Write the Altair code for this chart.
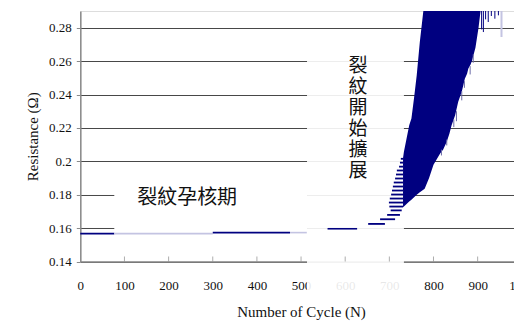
import altair as alt
import pandas as pd

# ---- axes ----
x_ticks = [0, 100, 200, 300, 400, 500, 600, 700, 800, 900, 1000]
y_ticks = [0.14, 0.16, 0.18, 0.20, 0.22, 0.24, 0.26, 0.28]
x_title = "Number of Cycle (N)"
y_title = "Resistance (Ω)"

# ---- flat (nucleation) trace, horizontal segments ----
seg_start = [0, 77, 300, 475, 560]
seg_end = [77, 300, 475, 513, 627]
seg_res = [0.1567, 0.1567, 0.1573, 0.1573, 0.1596]
seg_shade = ["dark", "faint", "dark", "faint", "dark"]

# ---- oscillation stripes just before crack growth ----
stripe_res = [0.2015, 0.1992, 0.1968, 0.1945, 0.1921, 0.1897, 0.1873, 0.1849,
              0.1825, 0.1801, 0.1777, 0.1753, 0.1729, 0.1706, 0.1679, 0.1653, 0.1625]
stripe_start = [726, 724, 722, 717, 715, 713, 710, 708, 706, 704, 701, 699, 700,
                703, 695, 679, 652]
stripe_end = [731, 731, 731, 731, 731, 731, 731, 731, 731, 731, 731, 731, 731,
              728, 724, 713, 690]

# ---- crack growth envelope ----
band_cycle = [731, 733, 739, 745, 750, 756, 762, 769, 777, 780, 790, 800, 815, 822,
              830, 836, 841, 849, 856, 864, 871, 876, 879, 884, 887, 895, 902, 908]
band_low = [0.1725, 0.1730, 0.1745, 0.1760, 0.1770, 0.1785, 0.1800, 0.1815, 0.1830,
            0.1835, 0.1900, 0.1980, 0.2047, 0.2070, 0.2117, 0.2165, 0.2216, 0.2276,
            0.2356, 0.2416, 0.2495, 0.2525, 0.2555, 0.2580, 0.2600, 0.2680, 0.2800, 0.2930]
band_high = [0.2020, 0.2057, 0.2137, 0.2216, 0.2257, 0.2380, 0.2515, 0.2715, 0.2900,
             0.3000, 0.3000, 0.3000, 0.3000, 0.3000, 0.3000, 0.3000, 0.3000, 0.3000,
             0.3000, 0.3000, 0.3000, 0.3000, 0.3000, 0.3000, 0.3000, 0.3000, 0.3000, 0.3000]

# thin dips along the lower edge
edge_cycle = [818, 830, 846, 852, 864, 870, 883, 890]
edge_low = [0.2035, 0.2095, 0.2205, 0.2240, 0.2365, 0.2440, 0.2520, 0.2590]
edge_high = [0.2070, 0.2130, 0.2250, 0.2300, 0.2420, 0.2480, 0.2570, 0.2640]

# spikes dropping below the top of the axis
spike_cycle = [909, 913, 918, 924, 931, 939, 947, 954]
spike_low = [0.2790, 0.2774, 0.2850, 0.2834, 0.2870, 0.2854, 0.2874, 0.2745]
spike_high = [0.3000] * 8
spike_kind = ["thin", "thin", "thin", "thin", "thin", "thin", "thin", "thick"]

# ---- annotation boxes ----
box_start = [77, 513.5]
box_end = [513.5, 733]
box_low = [0.1580, 0.1210]
box_high = [0.1993, 0.2705]
box_alpha = [1.0, 0.9]

label1_text = "裂紋孕核期"
label1_pos = (242, 0.1778)
label2_text = ["裂", "紋", "開", "始", "擴", "展"]
label2_pos = (629, 0.2573)   # position of the first character

NAVY = "#000080"
SERIF = "Liberation Serif"

xscale = alt.Scale(domain=[0, 1000], nice=False, zero=False)
yscale = alt.Scale(domain=[0.14, 0.29], nice=False, zero=False)

xaxis = alt.Axis(values=x_ticks, grid=False, ticks=False, labelFont=SERIF,
                 labelFontSize=13, labelColor="#111", labelPadding=18,
                 domainColor="#8a8a8a", domainWidth=1.5, titleFont=SERIF,
                 titleFontSize=15, titleFontWeight="normal", titleColor="#111",
                 titlePadding=12, format="d", labelFlush=False)
yaxis = alt.Axis(values=y_ticks, grid=True, gridColor="#474747", gridWidth=1,
                 tickColor="#8a8a8a", tickSize=4, labelFont=SERIF, labelFontSize=13,
                 labelColor="#111", labelPadding=5, domainColor="#8a8a8a",
                 domainWidth=1.5, titleFont=SERIF, titleFontSize=15,
                 titleFontWeight="normal", titleColor="#111", titlePadding=8,
                 labelExpr="datum.value == 0.2 ? '0.2' : format(datum.value, '.2f')")

X = alt.X("N:Q", scale=xscale, axis=xaxis, title=x_title)
Y = alt.Y("R:Q", scale=yscale, axis=yaxis, title=y_title)

boxes = pd.DataFrame({"N": box_start, "N2": box_end, "R": box_low, "R2": box_high,
                      "a": box_alpha})
segs = pd.DataFrame({"N": seg_start + stripe_start,
                     "N2": seg_end + stripe_end,
                     "R": seg_res + stripe_res,
                     "shade": seg_shade + ["dark"] * len(stripe_res),
                     "w": [1.6] * len(seg_res) + [1.8] * len(stripe_res)})
band = pd.DataFrame({"N": band_cycle, "R": band_low, "R2": band_high})
edges = pd.DataFrame({"N": edge_cycle, "R": edge_low, "R2": edge_high})
spikes = pd.DataFrame({"N": spike_cycle, "R": spike_low, "R2": spike_high,
                       "kind": spike_kind})
tickdf = pd.DataFrame({"N": x_ticks[1:], "R": [0.14] * (len(x_ticks) - 1)})

box_layer = alt.Chart(boxes).mark_rect(fill="white", strokeWidth=0).encode(
    x=X, x2="N2:Q", y=Y, y2="R2:Q", opacity=alt.Opacity("a:Q", scale=None))

tick_layer = alt.Chart(tickdf).mark_tick(orient="vertical", color="#8a8a8a",
                                         size=5, thickness=1, yOffset=-2.5).encode(
    x=X, y=Y)

seg_layer = alt.Chart(segs).mark_rule().encode(
    x=X, x2="N2:Q", y=Y,
    color=alt.Color("shade:N", scale=alt.Scale(domain=["dark", "faint"],
                                               range=[NAVY, "#c4c4e2"]), legend=None),
    strokeWidth=alt.StrokeWidth("w:Q", scale=None))

band_layer = alt.Chart(band).mark_area(color=NAVY, clip=True, interpolate="linear").encode(
    x=X, y=Y, y2="R2:Q")

edge_layer = alt.Chart(edges).mark_rule(color="#6a6aa8", strokeWidth=1, clip=True).encode(
    x=X, y=Y, y2="R2:Q")

spike_layer = alt.Chart(spikes).mark_rule(clip=True).encode(
    x=X, y=Y, y2="R2:Q",
    color=alt.Color("kind:N", scale=alt.Scale(domain=["thin", "thick"],
                                              range=["#7878b0", NAVY]), legend=None),
    strokeWidth=alt.StrokeWidth("kind:N", scale=alt.Scale(domain=["thin", "thick"],
                                                          range=[1, 2]), legend=None))

t1 = alt.Chart(pd.DataFrame({"N": [label1_pos[0]], "R": [label1_pos[1]]})).mark_text(
    text=label1_text, font="Noto Sans CJK TC", fontSize=20, color="#111",
    align="center", baseline="middle").encode(x=X, y=Y)

t2 = alt.Chart(pd.DataFrame({"N": [label2_pos[0]], "R": [label2_pos[1]]})).mark_text(
    text=label2_text, font="Noto Sans CJK TC", fontSize=19, lineHeight=21,
    color="#111", align="center", baseline="middle").encode(x=X, y=Y)

chart = alt.layer(box_layer, tick_layer, seg_layer, band_layer, edge_layer,
                  spike_layer, t1, t2).properties(
    width=441.5, height=250.5,
    autosize=alt.AutoSizeParams(type="none"),
    padding={"left": 72.3, "top": 3, "right": -8, "bottom": 59.5},
).configure_view(stroke="#c0c0c0", strokeWidth=1).configure(background="white")

chart.save("out.html", embed_options={"renderer": "svg", "actions": False})
